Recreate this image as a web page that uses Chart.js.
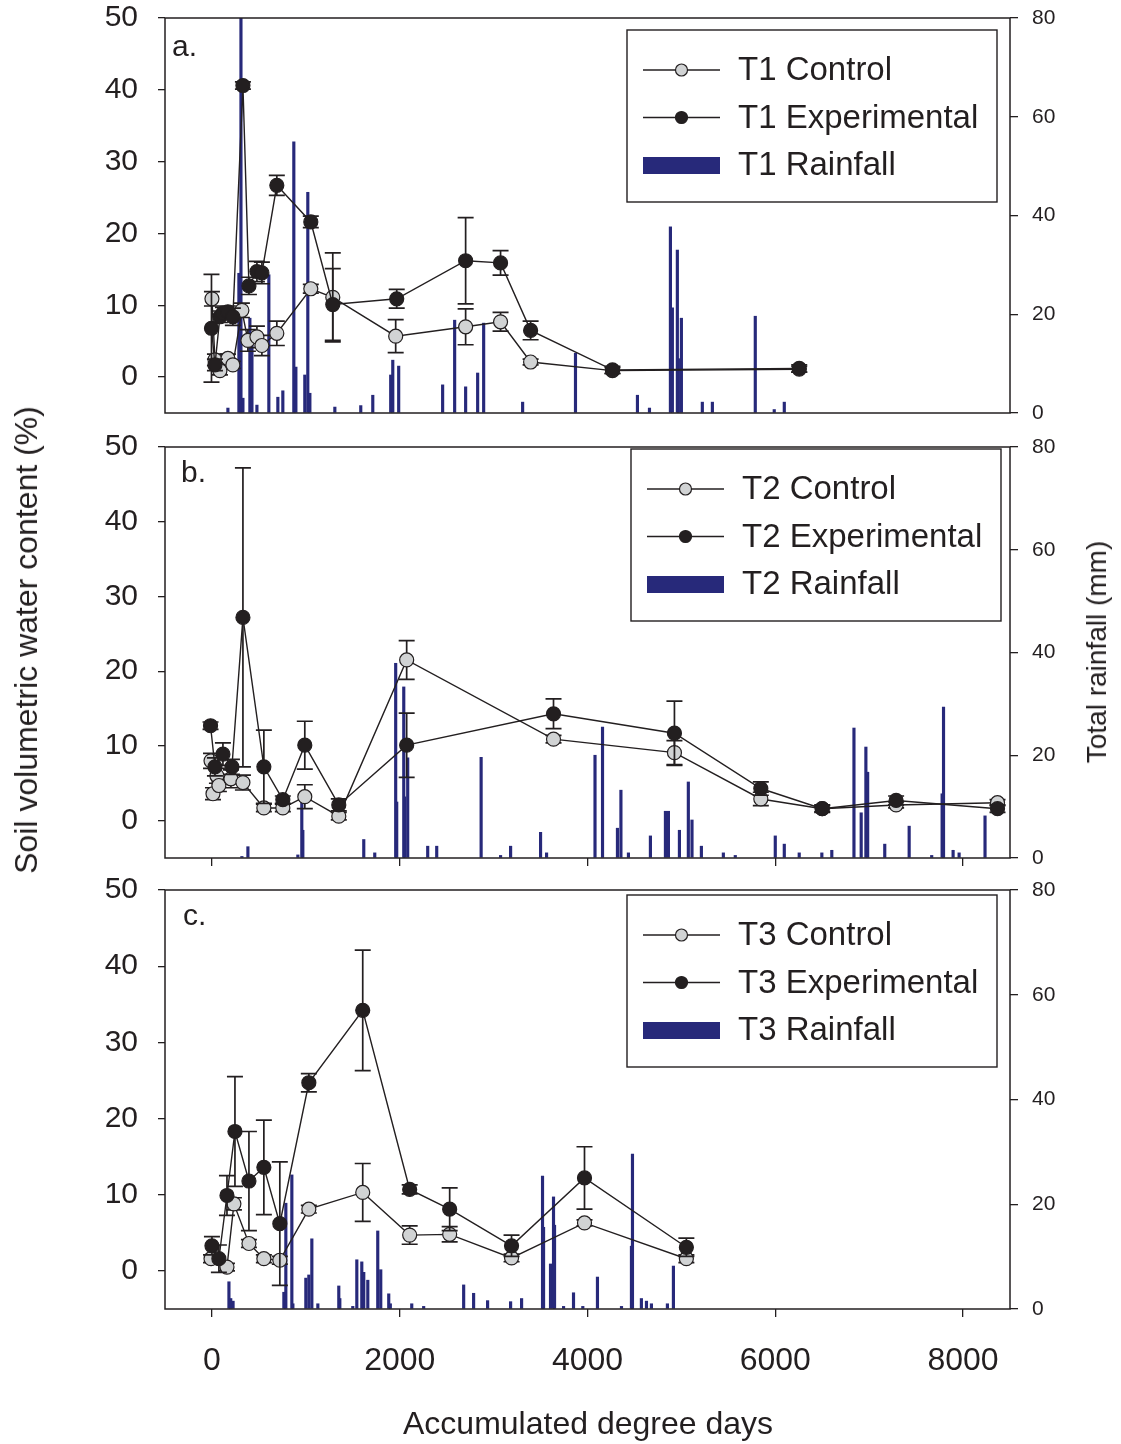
<!DOCTYPE html>
<html>
<head>
<meta charset="utf-8">
<title>Soil water content and rainfall</title>
<script src="https://cdn.jsdelivr.net/npm/chart.js@4.4.1/dist/chart.umd.min.js"></script>
<style>
  html, body { margin: 0; background: #fff; overflow: hidden; }
  #page {
    position: relative; width: 1121px; height: 1444px;
    font-family: "Liberation Sans", Arial, Helvetica, sans-serif; color: #231f20;
  }
  #page canvas { position: absolute; left: 0; }
  .axis-title {
    position: absolute; white-space: nowrap; line-height: 1;
    transform: translate(-50%, -50%);
  }
  .axis-title.vertical { transform: translate(-50%, -50%) rotate(-90deg); }
</style>
</head>
<body>
<div id="page">
  <canvas id="panelA" width="1121" height="432" style="top:0px"></canvas>
  <canvas id="panelB" width="1121" height="450" style="top:425px"></canvas>
  <canvas id="panelC" width="1121" height="574" style="top:870px"></canvas>
  <div class="axis-title vertical" style="left:26px; top:640px; font-size:32px;">Soil volumetric water content (%)</div>
  <div class="axis-title vertical" style="left:1097px; top:652px; font-size:28px;">Total rainfall (mm)</div>
  <div class="axis-title" style="left:588px; top:1423px; font-size:32px;">Accumulated degree days</div>
</div>

<script>
// ── tick values shared by all three panels ──
const xTicks = [0, 2000, 4000, 6000, 8000];
const waterTicks = [0, 10, 20, 30, 40, 50];
const rainTicks = [0, 20, 40, 60, 80];

// ── T1 ──
const t1ControlX = [0, 32, 85, 170, 223, 319, 383, 479, 532, 691, 1053, 1287, 1957, 2702, 3074, 3394, 4266, 6255];
const t1ControlY = [10.9, 2.4, 0.9, 2.6, 1.7, 9.3, 5.1, 5.6, 4.4, 6.1, 12.3, 11.1, 5.7, 7.0, 7.7, 2.1, 0.9, 1.1];
const t1ControlErr = [1.0, 0.8, 0.6, 0.6, 0.5, 1.0, 1.5, 1.5, 1.4, 1.7, 0.6, 6.2, 2.3, 2.5, 1.3, 0.4, 0.4, 0.4];
const t1ExpX = [-5, 32, 85, 117, 170, 223, 330, 394, 479, 532, 691, 1053, 1287, 1968, 2702, 3074, 3394, 4266, 6255];
const t1ExpY = [6.8, 1.7, 8.4, 8.9, 9.1, 8.4, 40.6, 12.7, 14.7, 14.5, 26.7, 21.6, 10.1, 10.9, 16.2, 15.9, 6.5, 1.0, 1.2];
const t1ExpErr = [7.5, 0.8, 0.8, 0.8, 0.8, 1.2, 0.5, 1.2, 1.4, 1.5, 1.4, 0.8, 5.0, 1.3, 6.0, 1.7, 1.3, 0.5, 0.5];
const t1RainX = [170, 287, 309, 330, 404, 426, 479, 606, 702, 755, 872, 894, 989, 1021, 1043, 1309, 1585, 1713,
  1904, 1926, 1989, 2457, 2585, 2702, 2830, 2894, 3309, 3872, 4532, 4660, 4883, 4904, 4957, 4968, 5000, 5223,
  5330, 5787, 5989, 6096];
const t1RainMm = [1, 28.3, 82, 3, 19.2, 15.8, 1.6, 28, 3.2, 4.5, 54.9, 9.3, 7.7, 44.7, 4, 1.2, 1.5, 3.6,
  7.7, 10.7, 9.5, 5.7, 18.8, 5.3, 8.1, 18.2, 2.2, 12.1, 3.6, 1, 37.7, 21.3, 33, 11, 19.2, 2.2,
  2.2, 19.6, 0.7, 2.2];

// ── T2 ──
const t2ControlX = [-10, 11, 53, 74, 202, 330, 553, 755, 989, 1351, 2074, 3638, 4926, 5846, 6500, 7287, 8367];
const t2ControlY = [8.0, 3.6, 6.0, 4.7, 5.6, 5.1, 1.7, 1.7, 3.2, 0.6, 21.5, 10.9, 9.1, 2.9, 1.6, 2.1, 2.4];
const t2ControlErr = [1.0, 0.8, 1.0, 0.8, 1.2, 1.0, 0.5, 0.5, 1.6, 0.5, 2.6, 0.5, 1.6, 0.9, 0.4, 0.4, 0.4];
const t2ExpX = [-15, 32, 117, 213, 330, 553, 755, 989, 1351, 2074, 3638, 4926, 5846, 6500, 7287, 8367];
const t2ExpY = [12.7, 7.2, 8.9, 7.2, 27.2, 7.2, 2.8, 10.1, 2.1, 10.1, 14.3, 11.7, 4.3, 1.6, 2.7, 1.6];
const t2ExpErr = [0.5, 1.2, 1.5, 1.0, 20.0, 4.9, 0.5, 3.2, 0.8, 4.3, 2.0, 4.3, 0.9, 0.5, 0.6, 0.5];
const t2RainX = [319, 383, 915, 957, 968, 1617, 1734, 1957, 1968, 2043, 2053, 2085, 2298, 2394, 2867, 3074,
  3181, 3500, 3564, 4080, 4160, 4319, 4356, 4436, 4670, 4830, 4862, 4979, 5074, 5113, 5213, 5447, 5574,
  6000, 6096, 6255, 6496, 6602, 6838, 6915, 6965, 6984, 7166, 7426, 7666, 7777, 7792, 7894, 7958, 8234];
const t2RainMm = [0.3, 2.2, 0.6, 12.3, 5.4, 3.6, 1, 37.9, 10.9, 33.3, 11.9, 19.5, 2.3, 2.3, 19.6, 0.5,
  2.3, 5, 1, 20, 25.5, 5.8, 13.2, 1, 4.3, 9.1, 9.1, 5.4, 14.8, 7.4, 2.3, 1, 0.5,
  4.3, 2.7, 1, 1, 1.5, 25.3, 8.8, 21.6, 16.7, 2.7, 6.2, 0.5, 12.5, 29.4, 1.5, 1, 8.2];

// ── T3 ──
const t3ControlX = [-10, 160, 234, 394, 553, 723, 1032, 1606, 2106, 2532, 3191, 3968, 5053];
const t3ControlY = [1.6, 0.5, 8.8, 3.6, 1.6, 1.4, 8.1, 10.3, 4.7, 4.8, 1.7, 6.3, 1.6];
const t3ControlErr = [0.5, 0.5, 0.8, 0.5, 0.5, 0.5, 0.5, 3.8, 1.2, 1.0, 0.5, 0.4, 0.5];
const t3ExpX = [0, 74, 160, 245, 394, 553, 723, 1032, 1606, 2106, 2532, 3191, 3968, 5053];
const t3ExpY = [3.3, 1.6, 9.9, 18.3, 11.8, 13.6, 6.2, 24.7, 34.2, 10.7, 8.1, 3.3, 12.2, 3.1];
const t3ExpErr = [1.2, 1.8, 2.6, 7.2, 6.5, 6.2, 8.1, 1.2, 7.9, 0.6, 2.8, 1.4, 4.1, 1.2];
const t3RainX = [181, 200, 225, 766, 787, 851, 862, 1000, 1032, 1064, 1128, 1351, 1362, 1500, 1543, 1596,
  1617, 1660, 1766, 1798, 1883, 1900, 2128, 2255, 2681, 2787, 2936, 3181, 3298, 3521, 3532, 3606, 3638,
  3649, 3745, 3851, 3950, 4106, 4362, 4468, 4479, 4574, 4628, 4681, 4851, 4915];
const t3RainMm = [5.2, 2, 1.5, 3.2, 20.2, 25.6, 1, 5.9, 6.5, 13.4, 1, 4.4, 2, 0.5, 9.4, 9.0,
  7, 5.5, 14.9, 7.5, 2.9, 1, 1, 0.5, 4.6, 3.0, 1.6, 1.4, 2, 25.4, 15.6, 8.6, 21.4,
  16, 0.5, 3.1, 0.5, 6.1, 0.5, 12, 29.6, 2, 1.5, 1, 1, 8.2];

const ink = '#231f20';
const controlGrey = '#d1d3d4';
const rainBlue = '#27297a';
const fontFamily = '"Liberation Sans", Arial, Helvetica, sans-serif';

// vertical error bars, drawn just before each line dataset so markers sit on top
const errorBars = {
  id: 'errorBars',
  beforeDatasetDraw(chart, args) {
    const ds = chart.data.datasets[args.index];
    if (!ds.errors) return;
    const yScale = chart.scales[args.meta.yAxisID];
    const ctx = chart.ctx;
    ctx.save();
    ctx.strokeStyle = ink;
    ctx.lineWidth = 1.7;
    args.meta.data.forEach((pt, i) => {
      const e = ds.errors[i];
      if (!e) return;
      const v = ds.data[i].y;
      const top = yScale.getPixelForValue(v + e);
      const bot = yScale.getPixelForValue(v - e);
      ctx.beginPath();
      ctx.moveTo(pt.x, top); ctx.lineTo(pt.x, bot);
      ctx.moveTo(pt.x - 8, top); ctx.lineTo(pt.x + 8, top);
      ctx.moveTo(pt.x - 8, bot); ctx.lineTo(pt.x + 8, bot);
      ctx.stroke();
    });
    ctx.restore();
  }
};

// frame, panel letter and the boxed legend
const panelDecor = {
  id: 'panelDecor',
  afterDraw(chart, args, opts) {
    const { ctx, chartArea: a } = chart;
    ctx.save();
    ctx.strokeStyle = ink;
    ctx.lineWidth = 1.5;
    ctx.strokeRect(a.left, a.top, a.right - a.left, a.bottom - a.top);

    ctx.fillStyle = ink;
    ctx.textBaseline = 'middle';
    ctx.textAlign = 'left';
    ctx.font = `30px ${fontFamily}`;
    ctx.fillText(opts.tag, a.left + opts.tagX, a.top + opts.tagY);

    const bx = a.left + opts.boxX;
    const by = a.top + opts.boxY;
    ctx.lineWidth = 1.4;
    ctx.strokeRect(bx, by, 370, 172);
    ctx.font = `33px ${fontFamily}`;
    chart.data.datasets.forEach((ds, i) => {
      const ry = by + 40 + 47.5 * i;
      if (ds.type === 'bar') {
        ctx.fillStyle = rainBlue;
        ctx.fillRect(bx + 16, ry - 8, 77, 17);
      } else {
        ctx.strokeStyle = ink;
        ctx.lineWidth = 1.3;
        ctx.beginPath();
        ctx.moveTo(bx + 16, ry); ctx.lineTo(bx + 93, ry);
        ctx.stroke();
        ctx.beginPath();
        ctx.arc(bx + 54.5, ry, 6, 0, Math.PI * 2);
        ctx.fillStyle = ds.pointBackgroundColor;
        ctx.fill();
        ctx.lineWidth = 1.2;
        ctx.stroke();
      }
      ctx.fillStyle = ink;
      ctx.fillText(ds.label, bx + 111, ry + 1);
    });
    ctx.restore();
  }
};

function lineSeries(label, xs, ys, errs, fill, order) {
  return {
    type: 'line', label, order,
    data: xs.map((x, i) => ({ x, y: ys[i] })),
    errors: errs,
    yAxisID: 'y',
    borderColor: ink, borderWidth: 1.4,
    pointRadius: 7, pointBackgroundColor: fill,
    pointBorderColor: ink, pointBorderWidth: 1.2,
    tension: 0, fill: false
  };
}

function rainSeries(label, xs, mm) {
  return {
    type: 'bar', label, order: 3,
    data: xs.map((x, i) => ({ x, y: mm[i] })),
    yAxisID: 'y2',
    backgroundColor: rainBlue, borderWidth: 0,
    barThickness: 2.5, grouped: false
  };
}

const tickList = values => scale => { scale.ticks = values.map(v => ({ value: v })); };

// fixed axis sizes; label overhang is ignored so every panel keeps the same plot box
const fixedWidth = w => s => { s.width = w; s.paddingTop = 0; s.paddingBottom = 0; };
const fixedHeight = h => s => { s.height = h; s.paddingLeft = 0; s.paddingRight = 0; };

function makePanel(canvasId, name, series, layout) {
  const [cx, cy, ce, ex, ey, ee, rx, rm] = series;
  return new Chart(document.getElementById(canvasId), {
    type: 'line',
    data: {
      datasets: [
        lineSeries(`${name} Control`, cx, cy, ce, controlGrey, 1),
        lineSeries(`${name} Experimental`, ex, ey, ee, ink, 0),
        rainSeries(`${name} Rainfall`, rx, rm)
      ]
    },
    options: {
      responsive: false,
      animation: false,
      events: [],
      layout: { padding: { top: layout.top, left: 0, right: 0, bottom: 0 } },
      plugins: {
        legend: { display: false },
        tooltip: { enabled: false },
        panelDecor: layout.decor
      },
      scales: {
        x: {
          type: 'linear', min: -500, max: 8500, offset: false,
          afterBuildTicks: tickList(xTicks),
          afterFit: fixedHeight(layout.xHeight),
          ticks: {
            display: layout.xLabels, autoSkip: false, maxRotation: 0,
            padding: 28, color: ink, callback: v => String(v),
            font: { family: fontFamily, size: 32, lineHeight: 1 }
          },
          grid: {
            display: layout.xMarks, drawOnChartArea: false, offset: false,
            tickLength: 8, color: ink, lineWidth: 1.3
          },
          border: { display: false }
        },
        y: {
          type: 'linear', position: 'left', min: -5, max: 50,
          afterBuildTicks: tickList(waterTicks),
          afterFit: fixedWidth(165),
          ticks: {
            padding: 20, color: ink, callback: v => String(v),
            font: { family: fontFamily, size: 30, lineHeight: 1 }
          },
          grid: { drawOnChartArea: false, tickLength: 7, color: ink, lineWidth: 1.3 },
          border: { display: false }
        },
        y2: {
          type: 'linear', position: 'right', min: 0, max: 80,
          afterBuildTicks: tickList(rainTicks),
          afterFit: fixedWidth(111),
          ticks: {
            padding: 14, color: ink, callback: v => String(v),
            font: { family: fontFamily, size: 21, lineHeight: 1 }
          },
          grid: { drawOnChartArea: false, tickLength: 8, color: ink, lineWidth: 1.3 },
          border: { display: false }
        }
      }
    },
    plugins: [errorBars, panelDecor]
  });
}

makePanel('panelA', 'T1',
  [t1ControlX, t1ControlY, t1ControlErr, t1ExpX, t1ExpY, t1ExpErr, t1RainX, t1RainMm],
  { top: 18, xHeight: 19, xLabels: false, xMarks: false,
    decor: { tag: 'a.', tagX: 7, tagY: 30, boxX: 462, boxY: 12 } });

makePanel('panelB', 'T2',
  [t2ControlX, t2ControlY, t2ControlErr, t2ExpX, t2ExpY, t2ExpErr, t2RainX, t2RainMm],
  { top: 22, xHeight: 17, xLabels: false, xMarks: true,
    decor: { tag: 'b.', tagX: 16, tagY: 27, boxX: 466, boxY: 2 } });

makePanel('panelC', 'T3',
  [t3ControlX, t3ControlY, t3ControlErr, t3ExpX, t3ExpY, t3ExpErr, t3RainX, t3RainMm],
  { top: 20, xHeight: 135, xLabels: true, xMarks: true,
    decor: { tag: 'c.', tagX: 18, tagY: 27, boxX: 462, boxY: 5 } });
</script>
</body>
</html>
